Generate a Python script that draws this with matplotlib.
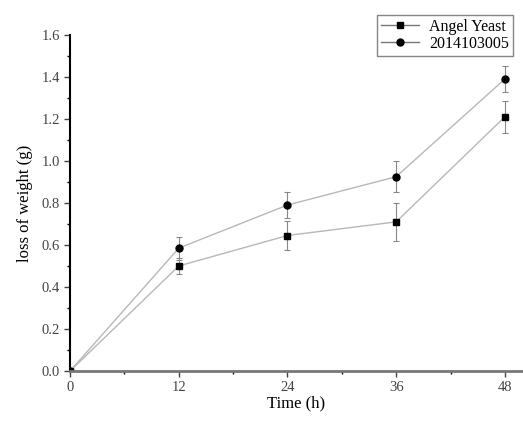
import matplotlib.pyplot as plt
from matplotlib.ticker import MultipleLocator

time_h = [0, 12, 24, 36, 48]
angel = [0.0, 0.50, 0.645, 0.71, 1.21]
angel_err = [0.0, 0.04, 0.068, 0.09, 0.075]
strain = [0.0, 0.585, 0.79, 0.925, 1.39]
strain_err = [0.0, 0.055, 0.06, 0.075, 0.06]

plt.rcParams['font.family'] = ['Liberation Serif', 'DejaVu Serif']

fig = plt.figure(figsize=(5.23, 4.25), dpi=100)
ax = fig.add_axes([0.134, 0.127, 0.866, 0.791])

common = dict(color='#b8b8b8', lw=1.0, ecolor='#888888', elinewidth=0.8,
              capsize=2.5, capthick=0.8, mfc='black', mec='black', ms=5)
ax.errorbar(time_h, angel, yerr=angel_err, marker='s', **common)
ax.errorbar(time_h, strain, yerr=strain_err, marker='o', **common)
# legend-only handles (no error bars in the key)
ax.plot([], [], color='#777777', lw=1.0, marker='s', mfc='black', mec='black',
        ms=5, label='Angel Yeast')
ax.plot([], [], color='#777777', lw=1.0, marker='o', mfc='black', mec='black',
        ms=5, label='2014103005')

ax.set_xlim(0, 50)
ax.set_ylim(0, 1.6)
ax.set_xticks([0, 12, 24, 36, 48])
ax.xaxis.set_minor_locator(MultipleLocator(6))
ax.yaxis.set_major_locator(MultipleLocator(0.2))
ax.yaxis.set_minor_locator(MultipleLocator(0.1))
ax.yaxis.set_major_formatter(plt.FuncFormatter(lambda v, p: f'{v:.1f}'))
ax.tick_params(direction='out', length=4, width=1, labelsize=10.5,
               colors='#444444')
ax.tick_params(which='minor', direction='out', length=2, width=1)

for s in ['top', 'right']:
    ax.spines[s].set_visible(False)
ax.spines['left'].set_linewidth(1.5)
ax.spines['bottom'].set_linewidth(2.0)
ax.spines['bottom'].set_color('#777777')

ax.set_xlabel('Time (h)', fontsize=12, labelpad=1)
ax.set_ylabel('loss of weight (g)', fontsize=12, labelpad=6)

ax.legend(loc='upper right', bbox_to_anchor=(0.995, 1.083), fontsize=11.5,
          fancybox=False, edgecolor='#666666', handlelength=2.4,
          borderpad=0.25, labelspacing=0.05, handletextpad=0.6)

fig.savefig('out.png', dpi=100)
